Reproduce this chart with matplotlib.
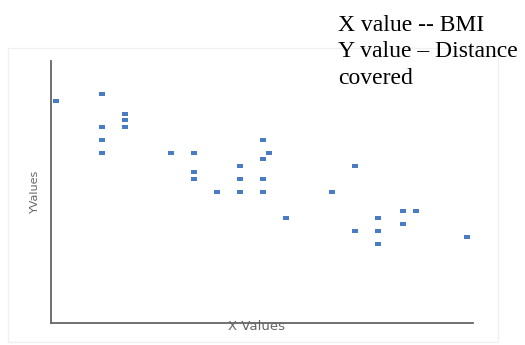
import matplotlib
matplotlib.use('Agg')
import matplotlib.pyplot as plt
from matplotlib.patches import Rectangle

# BMI (x) vs distance covered (y)
x_vals = [0.2, 2.2, 2.2, 2.2, 2.2, 3.2, 3.2, 3.2, 5.2, 6.2, 6.2, 6.2,
          7.2, 8.2, 8.2, 8.2, 9.2, 9.5, 9.2, 9.2, 9.2, 10.2, 12.2,
          13.2, 13.2, 14.2, 14.2, 14.2, 15.3, 15.85, 15.3, 18.1]
y_vals = [34, 35, 30, 28, 26, 32, 31, 30, 26, 26, 23, 22,
          20, 24, 22, 20, 28, 26, 25, 22, 20, 16, 20,
          24, 14, 16, 14, 12, 17, 17, 15, 13]

note_lines = ['X value -- BMI', 'Y value \u2013 Distance', 'covered']

fig = plt.figure(figsize=(5.25, 3.45), dpi=100)

# faint frame around the chart area
fig.patches.append(Rectangle((8/525, 3/345), 490/525, 294/345,
                             transform=fig.transFigure, fill=False,
                             edgecolor='#f0f0f0', lw=1.0))

ax = fig.add_axes([51/525, 1-323/345, 422/525, 262/345])
rect = [(-1.5, -1), (1.5, -1), (1.5, 1), (-1.5, 1)]
ax.plot(x_vals, y_vals, ls='none', marker=rect, markersize=5,
        color='#4a7cc4', markeredgewidth=0, clip_on=False)

ax.set_xlim(0, 18.35)
ax.set_ylim(-0.2, 40.1)
ax.set_xticks([])
ax.set_yticks([])
for s in ['top', 'right']:
    ax.spines[s].set_visible(False)
for s in ['left', 'bottom']:
    ax.spines[s].set_color('#666666')
    ax.spines[s].set_linewidth(1.3)

fig.text(257/525, 1-327/345, 'X Values', ha='center', va='center',
         fontsize=9.5, color='#666666')
fig.text(35/525, 1-191/345, 'YValues', ha='center', va='center',
         rotation=90, fontsize=8, color='#666666')

baselines = [31, 57, 84]
for line, yb in zip(note_lines, baselines):
    fig.text(338/525, 1-yb/345, line, ha='left', va='baseline',
             fontsize=17, family='Liberation Serif', color='black')

fig.savefig('out.png', dpi=100)
